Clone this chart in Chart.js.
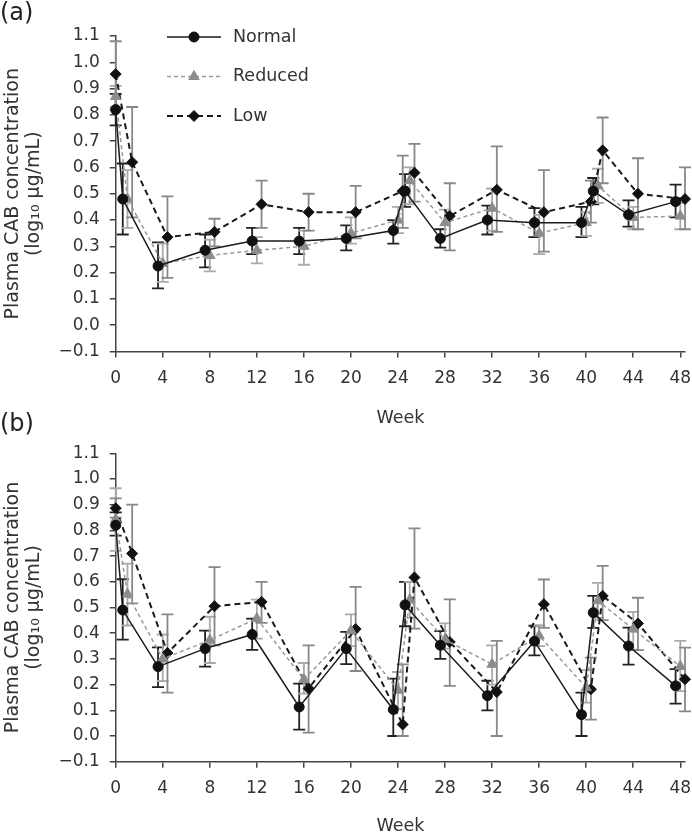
<!DOCTYPE html>
<html>
<head>
<meta charset="utf-8">
<script src="https://cdn.jsdelivr.net/npm/chart.js@4.4.1/dist/chart.umd.min.js"></script>
<style>
  html, body { margin: 0; padding: 0; background: #fff; }
  #wrap { position: relative; width: 692px; height: 834px; overflow: hidden; }
  .panel { position: absolute; left: 0; width: 692px; }
  #boxA { top: 0; height: 428px; }
  #boxB { top: 405px; height: 429px; }
</style>
</head>
<body>
<div id="wrap">
  <div class="panel" id="boxA"><canvas id="chartA"></canvas></div>
  <div class="panel" id="boxB"><canvas id="chartB"></canvas></div>
</div>
<script>
'use strict';

// study weeks and axis ticks
const weeks = [0, 1, 4, 8, 12, 16, 20, 24, 25, 28, 32, 36, 40, 41, 44, 48];
const xTicks = [0, 4, 8, 12, 16, 20, 24, 28, 32, 36, 40, 44, 48];
const yTicks = [-0.1, 0, 0.1, 0.2, 0.3, 0.4, 0.5, 0.6, 0.7, 0.8, 0.9, 1.0, 1.1];
const seriesNames = ['Normal', 'Reduced', 'Low'];

// panel (a)
const normalA    = [0.82, 0.48, 0.225, 0.285, 0.32, 0.32, 0.33, 0.36, 0.51, 0.33, 0.40, 0.39, 0.39, 0.51, 0.42, 0.47];
const normalALo  = [0.76, 0.345, 0.14, 0.22, 0.27, 0.27, 0.285, 0.31, 0.45, 0.295, 0.345, 0.335, 0.335, 0.46, 0.375, 0.41];
const normalAHi  = [0.88, 0.615, 0.315, 0.345, 0.37, 0.37, 0.38, 0.40, 0.575, 0.365, 0.455, 0.445, 0.45, 0.56, 0.475, 0.535];
const reducedA   = [0.87, 0.48, 0.235, 0.265, 0.285, 0.30, 0.35, 0.40, 0.55, 0.39, 0.445, 0.35, 0.39, 0.53, 0.41, 0.415];
const reducedALo = [0.83, 0.37, 0.165, 0.205, 0.235, 0.23, 0.31, 0.35, 0.46, 0.34, 0.36, 0.27, 0.34, 0.465, 0.365, 0.365];
const reducedAHi = [0.91, 0.59, 0.31, 0.325, 0.335, 0.36, 0.41, 0.45, 0.60, 0.44, 0.52, 0.42, 0.43, 0.595, 0.45, 0.465];
const lowA       = [0.955, 0.62, 0.335, 0.355, 0.46, 0.43, 0.43, 0.51, 0.58, 0.415, 0.515, 0.43, 0.47, 0.665, 0.50, 0.48];
const lowALo     = [0.82, 0.41, 0.18, 0.30, 0.37, 0.36, 0.33, 0.37, 0.47, 0.285, 0.355, 0.28, 0.39, 0.54, 0.365, 0.365];
const lowAHi     = [1.08, 0.83, 0.49, 0.405, 0.55, 0.50, 0.53, 0.645, 0.69, 0.54, 0.68, 0.59, 0.55, 0.79, 0.635, 0.60];

// panel (b)
const normalB    = [0.82, 0.49, 0.27, 0.34, 0.395, 0.113, 0.34, 0.103, 0.51, 0.353, 0.157, 0.369, 0.083, 0.48, 0.35, 0.195];
const normalBLo  = [0.78, 0.375, 0.19, 0.27, 0.335, 0.025, 0.28, 0.0, 0.427, 0.30, 0.10, 0.314, 0.0, 0.421, 0.278, 0.126];
const normalBHi  = [0.87, 0.61, 0.345, 0.41, 0.457, 0.204, 0.405, 0.223, 0.60, 0.408, 0.215, 0.429, 0.169, 0.545, 0.422, 0.26];
const reducedB   = [0.843, 0.552, 0.30, 0.373, 0.457, 0.22, 0.41, 0.178, 0.53, 0.375, 0.279, 0.39, 0.188, 0.526, 0.416, 0.271];
const reducedBLo = [0.72, 0.43, 0.214, 0.284, 0.379, 0.165, 0.35, 0.105, 0.46, 0.34, 0.20, 0.35, 0.13, 0.46, 0.336, 0.175];
const reducedBHi = [0.964, 0.671, 0.395, 0.464, 0.531, 0.284, 0.473, 0.249, 0.60, 0.438, 0.353, 0.43, 0.256, 0.596, 0.483, 0.37];
const lowB       = [0.886, 0.71, 0.323, 0.505, 0.522, 0.185, 0.416, 0.045, 0.617, 0.366, 0.171, 0.513, 0.182, 0.545, 0.438, 0.221];
const lowBLo     = [0.85, 0.516, 0.169, 0.353, 0.44, 0.013, 0.253, 0.0, 0.418, 0.195, 0.0, 0.421, 0.064, 0.451, 0.334, 0.096];
const lowBHi     = [0.925, 0.90, 0.473, 0.657, 0.60, 0.353, 0.58, 0.279, 0.808, 0.532, 0.37, 0.609, 0.305, 0.662, 0.538, 0.344];

const FONT = 'DejaVu Sans';
const INK = '#333';

// look of each series; shift = small sideways offset in weeks so bars don't overlap
const looks = [
  {shift: -0.4, line: '#1a1a1a', width: 1.5, dash: [], point: 'circle', r: 5, fill: '#111', bar: '#222'},
  {shift: 0, line: '#9a9a9a', width: 1.5, dash: [4, 3], point: 'triangle', r: 6, fill: '#8c8c8c', bar: '#aaa'},
  {shift: 0.4, line: '#1a1a1a', width: 2, dash: [6, 4], point: 'rectRot', r: 5.5, fill: '#111', bar: '#888'}
];

function makeSet(i, vals, lo, hi) {
  const k = looks[i];
  return {
    label: seriesNames[i],
    data: weeks.map((w, j) => ({x: w === 0 ? 0 : w + k.shift, y: vals[j]})),
    lo: lo, hi: hi, barColor: k.bar,
    borderColor: k.line, borderWidth: k.width, borderDash: k.dash,
    pointStyle: k.point, pointRadius: k.r, pointBackgroundColor: k.fill,
    pointBorderColor: k.fill, pointBorderWidth: 1, pointHoverRadius: k.r,
    tension: 0, fill: false, clip: false
  };
}

const errorBars = {
  id: 'errorBars',
  beforeDatasetsDraw(chart) {
    const {ctx, scales: {x, y}} = chart;
    const cap = 6;
    ctx.save();
    chart.data.datasets.forEach(ds => {
      ctx.strokeStyle = ds.barColor;
      ctx.lineWidth = 1.8;
      ds.data.forEach((p, i) => {
        const px = x.getPixelForValue(p.x);
        const yl = y.getPixelForValue(ds.lo[i]);
        const yh = y.getPixelForValue(ds.hi[i]);
        ctx.beginPath();
        ctx.moveTo(px, yl); ctx.lineTo(px, yh);
        ctx.moveTo(px - cap, yl); ctx.lineTo(px + cap, yl);
        ctx.moveTo(px - cap, yh); ctx.lineTo(px + cap, yh);
        ctx.stroke();
      });
    });
    ctx.restore();
  }
};

const extras = {
  id: 'extras',
  afterDraw(chart, args, opts) {
    const ctx = chart.ctx;
    ctx.save();
    ctx.fillStyle = '#222';
    ctx.font = '24px "' + FONT + '"';
    ctx.textAlign = 'left';
    ctx.textBaseline = 'middle';
    ctx.fillText(opts.tag, 0, opts.tagY);
    if (opts.key) {
      chart.data.datasets.forEach((ds, i) => {
        const yy = 37 + i * 39.5;
        ctx.strokeStyle = ds.borderColor;
        ctx.lineWidth = ds.borderWidth;
        ctx.setLineDash(ds.borderDash);
        ctx.beginPath(); ctx.moveTo(167, yy); ctx.lineTo(221, yy); ctx.stroke();
        ctx.setLineDash([]);
        ctx.fillStyle = ds.pointBackgroundColor;
        ctx.strokeStyle = ds.pointBorderColor;
        ctx.lineWidth = 1;
        Chart.helpers.drawPoint(ctx, {pointStyle: ds.pointStyle, radius: ds.pointRadius, borderWidth: 1}, 194, yy);
        ctx.fillStyle = INK;
        ctx.font = '17.5px "' + FONT + '"';
        ctx.fillText(ds.label, 233, yy);
      });
    }
    ctx.restore();
  }
};

function fmt(v) {
  return (Math.round(v * 10) / 10).toFixed(1).replace('-', '\u2212');
}

function build(id, sets, top, xH, tag, tagY, key) {
  return new Chart(document.getElementById(id), {
    type: 'line',
    data: {datasets: sets},
    options: {
      responsive: true,
      maintainAspectRatio: false,
      animation: false,
      events: [],
      layout: {padding: {top: top, right: 5.6, left: 0, bottom: 0}},
      plugins: {legend: {display: false}, tooltip: {enabled: false}, extras: {tag: tag, tagY: tagY, key: key}},
      scales: {
        x: {
          type: 'linear', min: 0, max: 48.4,
          afterBuildTicks: s => { s.ticks = xTicks.map(v => ({value: v})); },
          afterFit: s => { s.height = xH; s.paddingLeft = 0; s.paddingRight = 0; },
          border: {display: true, color: '#444', width: 1.5},
          grid: {drawOnChartArea: false, drawTicks: true, tickLength: 6, color: '#444', lineWidth: 1.5},
          ticks: {autoSkip: false, maxRotation: 0, padding: 11, color: INK, font: {family: FONT, size: 17}},
          title: {display: true, text: 'Week', color: INK, font: {family: FONT, size: 17.5}, padding: {top: 0, bottom: top > 40 ? -3 : -1}}
        },
        y: {
          type: 'linear', min: -0.1, max: 1.1,
          afterBuildTicks: s => { s.ticks = yTicks.map(v => ({value: v})); },
          afterFit: s => { s.width = 115.7; s.paddingTop = 0; s.paddingBottom = 0; },
          border: {display: true, color: '#444', width: 1.5},
          grid: {drawOnChartArea: false, drawTicks: true, tickLength: 6, color: '#444', lineWidth: 1.5},
          ticks: {padding: 10, color: INK, font: {family: FONT, size: 17}, callback: v => fmt(v)},
          title: {display: true, text: ['Plasma CAB concentration', '(log\u2081\u2080 \u00b5g/mL)'], color: INK,
                  font: {family: FONT, size: 19, lineHeight: 1.1}, padding: {top: 3, bottom: 0}}
        }
      }
    },
    plugins: [errorBars, extras]
  });
}

build('chartA', [
  makeSet(0, normalA, normalALo, normalAHi),
  makeSet(1, reducedA, reducedALo, reducedAHi),
  makeSet(2, lowA, lowALo, lowAHi)
], 36, 76.5, '(a)', 14, true);

build('chartB', [
  makeSet(0, normalB, normalBLo, normalBHi),
  makeSet(1, reducedB, reducedBLo, reducedBHi),
  makeSet(2, lowB, lowBLo, lowBHi)
], 48.3, 72.3, '(b)', 20, false);
</script>
</body>
</html>
